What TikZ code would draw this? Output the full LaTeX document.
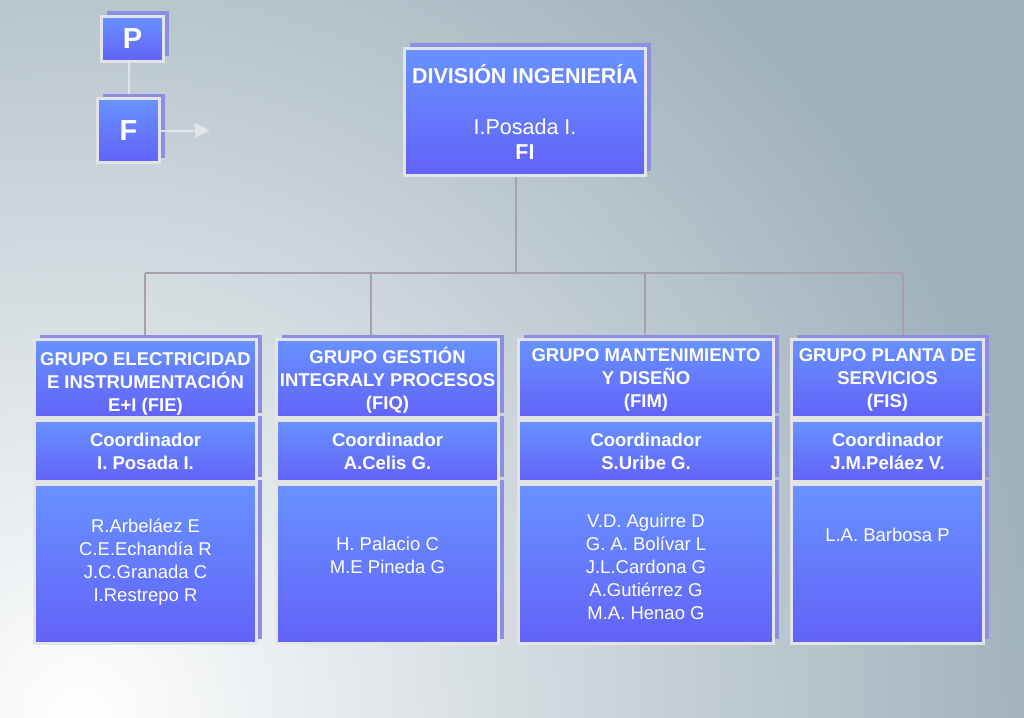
\documentclass[tikz,border=0pt]{standalone}
\usepackage{fontspec}
\setmainfont{Liberation Sans}
\usetikzlibrary{positioning,shadows,arrows.meta,backgrounds}

\definecolor{boxtop}{RGB}{104,146,255}
\definecolor{boxbot}{RGB}{98,98,248}
\definecolor{boxline}{RGB}{226,228,232}
\definecolor{shadowcol}{RGB}{140,142,228}
\definecolor{linkcol}{RGB}{170,160,172}
\definecolor{bgout}{RGB}{158,176,186}

\tikzset{
  box/.style={draw=boxline, line width=3pt, top color=boxtop, bottom color=boxbot,
    general shadow={fill=shadowcol, shadow xshift=5pt, shadow yshift=5pt},
    text=white, align=center, inner sep=0pt},
  grp/.style={box, font=\fontsize{18.5}{23}\selectfont\bfseries},
  grptext/.style={text=white, align=center, font=\fontsize{18.5}{23}\selectfont\bfseries},
  names/.style={text=white, align=center, font=\fontsize{18.5}{23}\selectfont},
  link/.style={draw=linkcol, line width=2pt},
  letter/.style={box, minimum width=62pt, font=\fontsize{29}{30}\selectfont\bfseries},
}

\begin{document}
\begin{tikzpicture}[x=1pt, y=-1pt]
    \useasboundingbox (0,0) rectangle (1024,717);
    % legend
    \node[letter, minimum height=45pt] (P) at (132.5,39) {P};
    \node[letter, minimum height=64pt] (F) at (128.5,130.5) {F};
    \coordinate (Fout) at (210,130.5);
    \draw[draw=boxline, line width=2pt, -{Triangle[length=15pt,width=14pt]}] (F.east) -- (Fout);
    % top
    \node[box, minimum width=241pt, minimum height=127pt, font=\fontsize{21.5}{25.5}\selectfont] (FI) at (525,112)
      {\textbf{DIVISIÓN INGENIERÍA}\\[25.5pt] I.Posada I.\\ \textbf{FI}};
    % groups
    \node[box, minimum width=222pt, minimum height=159pt] (fiem) at (145.5,564) {};
    \node[grp, minimum width=222pt, minimum height=61pt, above=0pt of fiem] (fiec) {Coordinador\\ I. Posada I.};
    \node[box, minimum width=222pt, minimum height=78pt, above=0pt of fiec] (fieh) {};
    \node[grptext] (fiet) at (145.5,384) {GRUPO ELECTRICIDAD\\ E INSTRUMENTACIÓN\\ E+I (FIE)};
    \node[names] (fien) at (145.5,562) {R.Arbeláez E\\ C.E.Echandía R\\ J.C.Granada C\\ I.Restrepo R};

    \node[box, minimum width=222pt, minimum height=159pt] (fiqm) at (387.5,564) {};
    \node[grp, minimum width=222pt, minimum height=61pt, above=0pt of fiqm] (fiqc) {Coordinador\\ A.Celis G.};
    \node[box, minimum width=222pt, minimum height=78pt, above=0pt of fiqc] (fiqh) {};
    \node[grptext] (fiqt) at (387.5,380) {GRUPO GESTIÓN\\ INTEGRALY PROCESOS\\ (FIQ)};
    \node[names] (fiqn) at (387.5,555.5) {H. Palacio C\\ M.E Pineda G};

    \node[box, minimum width=255pt, minimum height=159pt] (fimm) at (646,564) {};
    \node[grp, minimum width=255pt, minimum height=61pt, above=0pt of fimm] (fimc) {Coordinador\\ S.Uribe G.};
    \node[box, minimum width=255pt, minimum height=78pt, above=0pt of fimc] (fimh) {};
    \node[grptext] (fimt) at (646,380) {GRUPO MANTENIMIENTO\\ Y DISEÑO\\ (FIM)};
    \node[names] (fimn) at (646,566.5) {V.D. Aguirre D\\ G. A. Bolívar L\\ J.L.Cardona G\\ A.Gutiérrez G\\ M.A. Henao G};

    \node[box, minimum width=192pt, minimum height=159pt] (fism) at (887.5,564) {};
    \node[grp, minimum width=192pt, minimum height=61pt, above=0pt of fism] (fisc) {Coordinador\\ J.M.Peláez V.};
    \node[box, minimum width=192pt, minimum height=78pt, above=0pt of fisc] (fish) {};
    \node[grptext] (fist) at (887.5,380) {GRUPO PLANTA DE\\ SERVICIOS\\ (FIS)};
    \node[names] (fisn) at (887.5,535) {L.A. Barbosa P};

    \begin{scope}[on background layer]
    \begin{scope}
    \clip (0,0) rectangle (1024,717);
    \fill[bgout] (0,0) rectangle (1024,717);
    \shade[inner color=white, outer color=bgout] (80,717) circle [radius=980pt];
    \end{scope}
    \draw[draw=boxline, line width=2.5pt] (F.north -| 129,0) -- (P.south -| 129,0);
    \coordinate (bus) at (516,273);
    \coordinate (busl) at (145,273);
    \coordinate (busr) at (903,273);
    \draw[link] (FI.south -| bus) -- (bus);
    \draw[link] (busl) -- (busr);
    \foreach \x/\n in {145/fieh, 371/fiqh, 645/fimh, 903/fish}
      \draw[link] (\x,273) -- (\n.north -| \x,0);
    \end{scope}
\end{tikzpicture}
\end{document}
